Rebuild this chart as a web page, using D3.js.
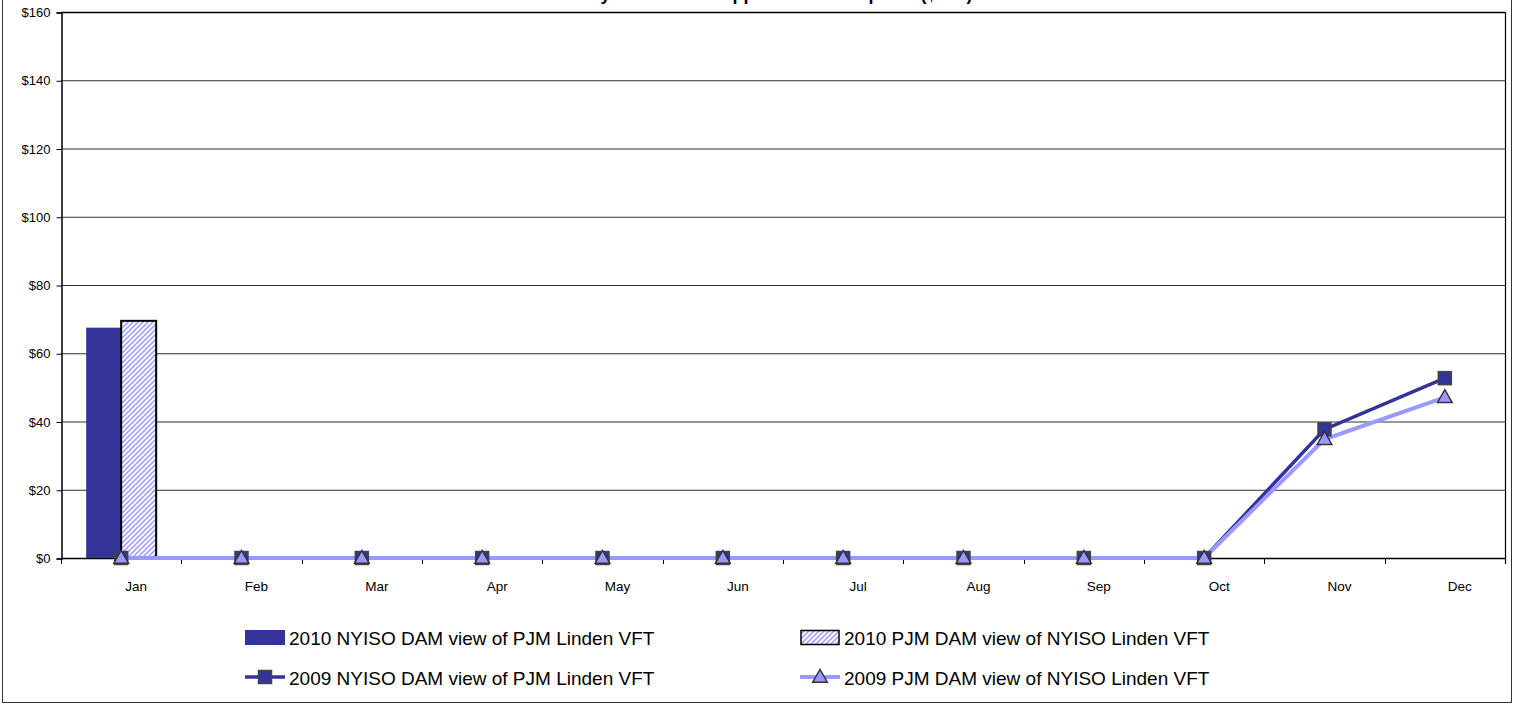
<!DOCTYPE html>
<html>
<head>
<meta charset="utf-8">
<script src="https://cdn.jsdelivr.net/npm/d3@7"></script>
<style>
  html, body { margin: 0; padding: 0; background: #fff; }
  svg { display: block; font-family: Arial, "Liberation Sans", sans-serif; }
</style>
</head>
<body>
<svg id="chart" width="1514" height="704"></svg>
<script>
// ---- data ----
const months = ["Jan","Feb","Mar","Apr","May","Jun","Jul","Aug","Sep","Oct","Nov","Dec"];
const bar2010Nyiso = [67.5, null, null, null, null, null, null, null, null, null, null, null];
const bar2010Pjm   = [69.5, null, null, null, null, null, null, null, null, null, null, null];
const line2009Nyiso = [0, 0, 0, 0, 0, 0, 0, 0, 0, 0, 37.7, 52.7];
const line2009Pjm   = [0, 0, 0, 0, 0, 0, 0, 0, 0, 0, 34.8, 47.1];
const yTicks = [0, 20, 40, 60, 80, 100, 120, 140, 160];
const seriesNames = [
  "2010 NYISO DAM view of PJM Linden VFT",
  "2010 PJM DAM view of NYISO Linden VFT",
  "2009 NYISO DAM view of PJM Linden VFT",
  "2009 PJM DAM view of NYISO Linden VFT"
];
const titleText = "Monthly Linden VFT Opposite Flow Impacts ($000)";

// ---- layout ----
const svg = d3.select("#chart");
const L = 61, R = 1505, T = 12, B = 558;
const dark = "#333399", light = "#9999ff";

const defs = svg.append("defs");
const pat = defs.append("pattern").attr("id", "hatch")
  .attr("patternUnits", "userSpaceOnUse").attr("width", 5).attr("height", 5);
pat.append("rect").attr("width", 5).attr("height", 5).attr("fill", "#fff");
pat.append("path").attr("d", "M-1.25,1.25 l2.5,-2.5 M0,5 l5,-5 M3.75,6.25 l2.5,-2.5")
  .attr("stroke", "#a3a3ff").attr("stroke-width", 1.6);

// outer frame
svg.append("rect").attr("x", 2.5).attr("y", -5).attr("width", 1509).attr("height", 707.5)
  .attr("fill", "none").attr("stroke", "#333").attr("stroke-width", 1);

// title (mostly clipped off the top, as in the reference)
svg.append("text").attr("x", 757).attr("y", 0).attr("text-anchor", "middle")
  .attr("font-size", 18).attr("font-weight", "bold").attr("fill", "#000").text(titleText);

const x = d3.scaleBand().domain(months).range([L, R]).padding(0);
const y = d3.scaleLinear().domain([0, 160]).range([B, T]);
const xInner = d3.scaleBand().domain(["nyiso", "pjm"]).range([-35, 35]).padding(0);

// gridlines
svg.append("g").selectAll("line").data(yTicks.filter(d => d > 0)).join("line")
  .attr("x1", L).attr("x2", R).attr("y1", d => y(d) + 0.5).attr("y2", d => y(d) + 0.5)
  .attr("stroke", d => d === 160 ? "#000" : "#333").attr("stroke-width", d => d === 160 ? 1.5 : 1);

// right frame of plot
svg.append("line").attr("x1", R + 0.5).attr("x2", R + 0.5).attr("y1", T).attr("y2", B + 6)
  .attr("stroke", "#000").attr("stroke-width", 1.2);

// y axis
const yAxis = d3.axisLeft(y).tickValues(yTicks).tickSize(5).tickPadding(6)
  .tickFormat(d => "$" + d);
const gy = svg.append("g").attr("transform", `translate(${L + 0.5},0.5)`).call(yAxis);
gy.select(".domain").attr("stroke", "#000").attr("stroke-width", 1.5);
gy.selectAll(".tick line").attr("stroke", "#000");
gy.selectAll(".tick text").attr("font-size", 13).attr("fill", "#000")
  .attr("font-family", "Arial, 'Liberation Sans', sans-serif");

// x axis: ticks at band boundaries
const gx = svg.append("g");
gx.append("line").attr("x1", L).attr("x2", R).attr("y1", B + 0.5).attr("y2", B + 0.5)
  .attr("stroke", "#000").attr("stroke-width", 1.5);
const boundaries = months.map(m => x(m)).concat([R]);
gx.selectAll("line.tk").data(boundaries).join("line").attr("class", "tk")
  .attr("x1", d => Math.round(d) + 0.5).attr("x2", d => Math.round(d) + 0.5)
  .attr("y1", B).attr("y2", B + 6).attr("stroke", "#000").attr("stroke-width", 1);
gx.selectAll("text").data(months).join("text")
  .attr("x", d => x(d) + x.bandwidth() / 2 + 15).attr("y", 591)
  .attr("text-anchor", "middle").attr("font-size", 13.5).attr("fill", "#000").text(d => d);

// bars
const cx = m => x(m) + x.bandwidth() / 2;
svg.append("g").selectAll("rect").data(months.map((m, i) => ({m, v: bar2010Nyiso[i]})).filter(d => d.v != null))
  .join("rect")
  .attr("x", d => cx(d.m) + xInner("nyiso")).attr("width", xInner.bandwidth())
  .attr("y", d => y(d.v)).attr("height", d => B - y(d.v)).attr("fill", dark);
svg.append("g").selectAll("rect").data(months.map((m, i) => ({m, v: bar2010Pjm[i]})).filter(d => d.v != null))
  .join("rect")
  .attr("x", d => cx(d.m) + xInner("pjm")).attr("width", xInner.bandwidth())
  .attr("y", d => y(d.v)).attr("height", d => B - y(d.v))
  .attr("fill", "url(#hatch)").attr("stroke", "#000").attr("stroke-width", 2);

// lines
const lineGen = d3.line().x(d => cx(d.m)).y(d => y(d.v));
const nyData = months.map((m, i) => ({m, v: line2009Nyiso[i]}));
const pjData = months.map((m, i) => ({m, v: line2009Pjm[i]}));
svg.append("path").datum(nyData).attr("d", lineGen).attr("fill", "none")
  .attr("stroke", dark).attr("stroke-width", 3.5);
svg.append("path").datum(pjData).attr("d", lineGen).attr("fill", "none")
  .attr("stroke", light).attr("stroke-width", 4);

const sq = 13;
svg.append("g").selectAll("rect").data(nyData).join("rect")
  .attr("x", d => cx(d.m) - sq / 2).attr("y", d => y(d.v) - sq / 2)
  .attr("width", sq).attr("height", sq).attr("fill", dark).attr("stroke", "#444").attr("stroke-width", 1.5);
const tri = d3.symbol().type(d3.symbolTriangle).size(95);
svg.append("g").selectAll("path").data(pjData).join("path")
  .attr("transform", d => `translate(${cx(d.m)},${y(d.v) + 1})`)
  .attr("d", tri).attr("fill", light).attr("stroke", "#333").attr("stroke-width", 1.4);

// legend
const lg = svg.append("g").attr("font-size", 19).attr("fill", "#000");
// item 1
lg.append("rect").attr("x", 245).attr("y", 630).attr("width", 40).attr("height", 15).attr("fill", dark);
lg.append("text").attr("x", 289).attr("y", 645).text(seriesNames[0]);
// item 2
lg.append("rect").attr("x", 801).attr("y", 630.5).attr("width", 38).attr("height", 14)
  .attr("fill", "url(#hatch)").attr("stroke", "#000").attr("stroke-width", 1.5);
lg.append("text").attr("x", 844).attr("y", 645).text(seriesNames[1]);
// item 3
lg.append("line").attr("x1", 245).attr("x2", 285).attr("y1", 677).attr("y2", 677)
  .attr("stroke", dark).attr("stroke-width", 3.5);
lg.append("rect").attr("x", 265 - sq / 2).attr("y", 677 - sq / 2).attr("width", sq).attr("height", sq)
  .attr("fill", dark).attr("stroke", "#444").attr("stroke-width", 1.5);
lg.append("text").attr("x", 289).attr("y", 685).text(seriesNames[2]);
// item 4
lg.append("line").attr("x1", 800).attr("x2", 840).attr("y1", 677).attr("y2", 677)
  .attr("stroke", light).attr("stroke-width", 4);
lg.append("path").attr("transform", "translate(820,678)").attr("d", tri)
  .attr("fill", light).attr("stroke", "#333").attr("stroke-width", 1.4);
lg.append("text").attr("x", 844).attr("y", 685).text(seriesNames[3]);
</script>
</body>
</html>
